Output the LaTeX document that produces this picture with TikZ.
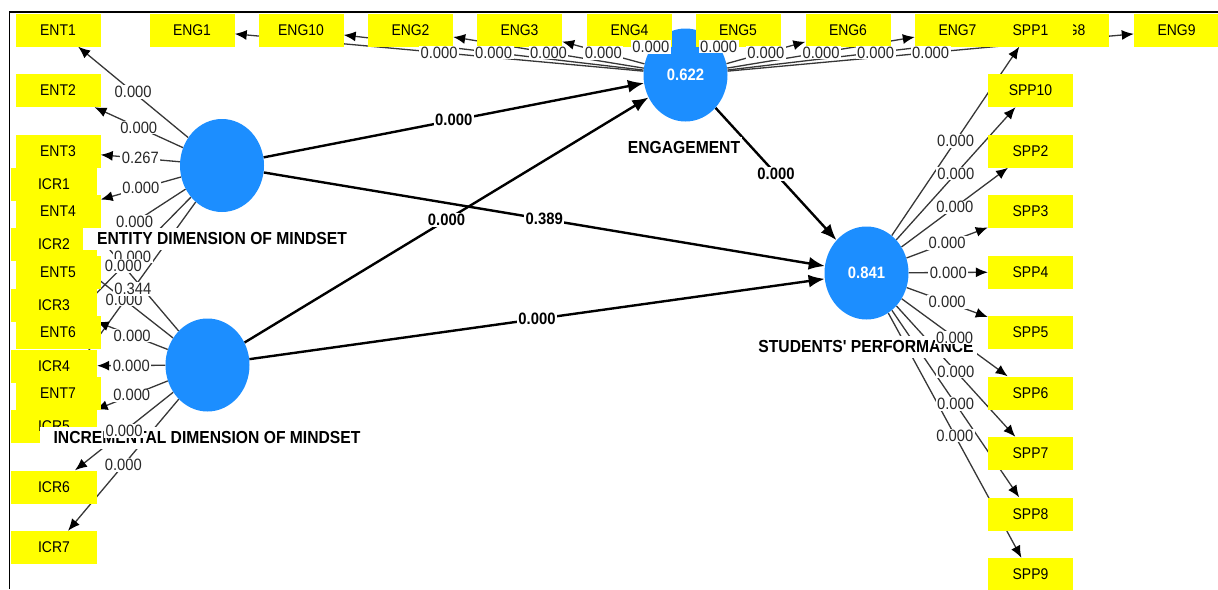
\documentclass[tikz,border=0pt]{standalone}
\usepackage{fontspec}
\setmainfont{Liberation Sans}
\newfontfamily\lsans[FakeStretch=0.9]{Liberation Sans}
\usetikzlibrary{shapes.geometric,arrows.meta}
\definecolor{yel}{RGB}{255,255,0}
\definecolor{lvblue}{RGB}{28,142,255}
\definecolor{mgray}{RGB}{55,55,55}
\definecolor{lgray}{RGB}{40,40,40}
\pgfdeclarelayer{edges}
\pgfsetlayers{edges,main}
\tikzset{
  ind/.style={fill=yel, minimum width=85pt, minimum height=33pt, inner sep=0pt, text=black, font=\lsans\fontsize{15.5}{17}\selectfont},
  lv/.style={ellipse, fill=lvblue, minimum width=84pt, minimum height=93pt, inner sep=0pt, text=white, font=\lsans\bfseries\fontsize{16.5}{18}\selectfont},
  meas/.style={draw=mgray, line width=1.3pt, -{Latex[length=12pt,width=10pt,color=black]}},
  struct/.style={draw=black, line width=2.4pt, -{Latex[length=16pt,width=13pt]}},
  wl/.style={fill=white, inner xsep=1.5pt, inner ysep=1pt, text=lgray, font=\lsans\fontsize{16.4}{18}\selectfont},
  sl/.style={fill=white, inner xsep=1.5pt, inner ysep=1pt, text=black, font=\lsans\bfseries\fontsize{16.5}{18}\selectfont},
  cname/.style={fill=white, inner xsep=#1, inner ysep=4.5pt, text=black, font=\lsans\bfseries\fontsize{17.4}{19}\selectfont},
  cname/.default=3pt,
  borderline/.style={draw=black, line width=1.8pt},
}
\begin{document}
\begin{tikzpicture}[x=1pt,y=-1pt]
\useasboundingbox (0,0) rectangle (1218,589);
% frame
\coordinate (bl) at (9.5,589);
\coordinate (tl) at (9.5,12);
\coordinate (tr) at (1218,12);
\draw[borderline] (bl) -- (tl) -- (tr);

% latent variables
\node[lv] (LVent) at (222,165.5) {};
\node[lv] (LVicr) at (207.5,365) {};
\node[lv] (LVeng) at (685.5,75) {0.622};
\node[lv] (LVspp) at (866.5,273) {0.841};

% indicator boxes
\foreach \n/\x in {1/192,10/301,2/410.5,3/519.5,4/629.5,5/738,6/848,7/957.5,8/1066.5,9/1176.5}
  \node[ind] (ENG\n) at (\x,30) {ENG\n};
\foreach \n/\y in {1/30,2/90.5,3/151}
  \node[ind] (ENT\n) at (58,\y) {ENT\n};
\foreach \n/\y/\m/\z in {1/184/4/211.5,2/244.5/5/272,3/305/6/332.5,4/366/7/393}{
  \node[ind, minimum width=86pt] (ICR\n) at (54,\y) {ICR\n};
  \node[ind] (ENT\m) at (58,\z) {ENT\m};
}
\foreach \n/\y in {5/426.5,6/487,7/547.5}
  \node[ind, minimum width=86pt] (ICR\n) at (54,\y) {ICR\n};
\foreach \n/\y in {1/30,10/90.5,2/151,3/211.5,4/272,5/332.5,6/393,7/453.5,8/514,9/574.5}
  \node[ind] (SPP\n) at (1030.5,\y) {SPP\n};

% connectors
\begin{pgfonlayer}{edges}
\foreach \n in {1,...,7} \draw[meas] (LVent) -- (ENT\n) coordinate[midway] (mENT\n);
\foreach \n in {1,...,7} \draw[meas] (LVicr) -- (ICR\n) coordinate[midway] (mICR\n);
\foreach \n in {1,...,10} \draw[meas] (LVeng) -- (ENG\n) coordinate[midway] (mENG\n);
\foreach \n in {1,...,10} \draw[meas] (LVspp) -- (SPP\n) coordinate[midway] (mSPP\n);
\draw[struct] (LVent) -- (LVeng) coordinate[midway] (p1);
\draw[struct] (LVicr) -- (LVeng) coordinate[midway] (p2);
\draw[struct] (LVent) -- (LVspp) coordinate[midway] (p3);
\draw[struct] (LVicr) -- (LVspp) coordinate[midway] (p4);
\draw[struct] (LVeng) -- (LVspp) coordinate[midway] (p5);
\end{pgfonlayer}

% construct names
\node[cname=14pt] (nINC) at (207,438) {INCREMENTAL DIMENSION OF MINDSET};
\node[cname=2pt] (nENG) at (684,148) {ENGAGEMENT};
\node[cname=3pt] (nSPP) at (866,347) {STUDENTS' PERFORMANCE};

% outer loadings labels
\foreach \n/\v in {1/0.000,2/0.000,3/0.267,4/0.000,5/0.000,6/0.000}
  \node[wl] (lENT\n) at (mENT\n) {\v};
\node[cname=14pt] (nENT) at (222,239) {ENTITY DIMENSION OF MINDSET};
\foreach \n in {1,2} \node[wl] (lICR\n) at (mICR\n) {0.000};
\node[wl] (lENT7) at (mENT7) {0.344};
\foreach \n in {3,...,7} \node[wl] (lICR\n) at (mICR\n) {0.000};
\foreach \n in {1,...,10} \node[wl] (lENG\n) at (mENG\n) {0.000};
\foreach \n in {1,...,10} \node[wl] (lSPP\n) at (mSPP\n) {0.000};

% path coefficients
\node[sl] (lp1) at (p1) {0.000};
\node[sl] (lp2) at (p2) {0.000};
\node[sl] (lp3) at (p3) {0.389};
\node[sl] (lp4) at (p4) {0.000};
\node[sl] (lp5) at (p5) {0.000};
\end{tikzpicture}
\end{document}
